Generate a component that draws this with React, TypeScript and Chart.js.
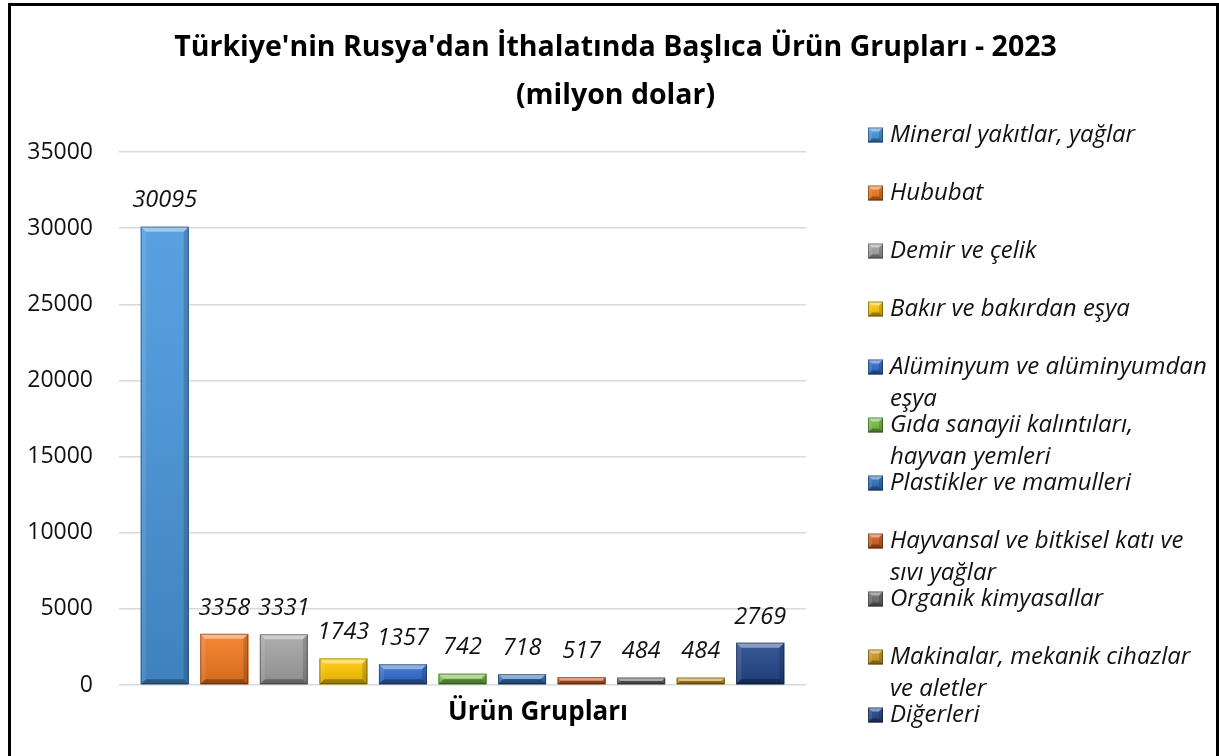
import React, { useEffect, useRef } from "react";
import { Chart, registerables } from "chart.js";

Chart.register(...registerables);

// ---- data ----
const categories: string[] = [""];
const seriesNames: string[] = [
  "Mineral yakıtlar, yağlar",
  "Hububat",
  "Demir ve çelik",
  "Bakır ve bakırdan eşya",
  "Alüminyum ve alüminyumdan eşya",
  "Gıda sanayii kalıntıları, hayvan yemleri",
  "Plastikler ve mamulleri",
  "Hayvansal ve bitkisel katı ve sıvı yağlar",
  "Organik kimyasallar",
  "Makinalar, mekanik cihazlar ve aletler",
  "Diğerleri",
];
const seriesValues: number[] = [30095, 3358, 3331, 1743, 1357, 742, 718, 517, 484, 484, 2769];
const seriesColors: string[] = [
  "#4796dc",
  "#f4791f",
  "#a3a3a3",
  "#ffc800",
  "#2f6bcc",
  "#76c043",
  "#2d72bc",
  "#d45f1e",
  "#6b6b6b",
  "#cf9d1c",
  "#21458a",
];
const titleLines: string[] = ["Türkiye'nin Rusya'dan İthalatında Başlıca Ürün Grupları - 2023", "(milyon dolar)"];
const xAxisTitle = "Ürün Grupları";
const yMin = 0;
const yMax = 35000;
const yStep = 5000;

const FONT = "'Open Sans', sans-serif";

function drawBevelBox(ctx: CanvasRenderingContext2D, l: number, t: number, w: number, h: number, color: string, bvMax: number) {
  const r = l + w;
  const b = t + h;
  const bv = Math.min(bvMax, h / 2, w / 2);
  ctx.fillStyle = color;
  ctx.fillRect(l, t, w, h);
  const g = ctx.createLinearGradient(0, t, 0, b);
  g.addColorStop(0, "rgba(255,255,255,0.10)");
  g.addColorStop(1, "rgba(0,0,0,0.14)");
  ctx.fillStyle = g;
  ctx.fillRect(l, t, w, h);
  const poly = (pts: number[][], fill: string) => {
    ctx.beginPath();
    ctx.moveTo(pts[0][0], pts[0][1]);
    for (let k = 1; k < pts.length; k++) ctx.lineTo(pts[k][0], pts[k][1]);
    ctx.closePath();
    ctx.fillStyle = fill;
    ctx.fill();
  };
  poly([[l, t], [r, t], [r - bv, t + bv], [l + bv, t + bv]], "rgba(255,255,255,0.42)");
  poly([[l, t], [l + bv, t + bv], [l + bv, b - bv], [l, b]], "rgba(255,255,255,0.10)");
  poly([[r, t], [r - bv, t + bv], [r - bv, b - bv], [r, b]], "rgba(0,0,0,0.16)");
  poly([[l, b], [l + bv, b - bv], [r - bv, b - bv], [r, b]], "rgba(0,0,0,0.30)");
  ctx.strokeStyle = "rgba(0,0,0,0.35)";
  ctx.lineWidth = 1;
  ctx.strokeRect(l + 0.5, t + 0.5, w - 1, h - 1);
}

const barDecorPlugin = {
  id: "barDecor",
  afterDatasetsDraw(chart: any) {
    const ctx: CanvasRenderingContext2D = chart.ctx;
    ctx.save();
    chart.data.datasets.forEach((ds: any, i: number) => {
      const meta = chart.getDatasetMeta(i);
      meta.data.forEach((bar: any, j: number) => {
        const p = bar.getProps(["x", "y", "base", "width"], true);
        const l = p.x - p.width / 2;
        const t = Math.min(p.y, p.base);
        const h = Math.abs(p.base - p.y);
        drawBevelBox(ctx, l, t, p.width, h, seriesColors[i], 5);
        ctx.fillStyle = "#111";
        ctx.font = `italic 23.5px ${FONT}`;
        ctx.textAlign = "center";
        ctx.textBaseline = "middle";
        ctx.fillText(String(ds.data[j]), p.x, t - 26);
      });
    });
    ctx.restore();
  },
};

function wrapText(ctx: CanvasRenderingContext2D, text: string, maxW: number): string[] {
  const words = text.split(" ");
  const lines: string[] = [];
  let cur = "";
  for (const w of words) {
    const test = cur ? cur + " " + w : w;
    if (ctx.measureText(test).width > maxW && cur) {
      lines.push(cur);
      cur = w;
    } else cur = test;
  }
  if (cur) lines.push(cur);
  return lines;
}

const decorPlugin = {
  id: "decor",
  afterDraw(chart: any) {
    const ctx: CanvasRenderingContext2D = chart.ctx;
    const area = chart.chartArea;
    ctx.save();
    // title
    ctx.fillStyle = "#000";
    ctx.font = `bold 28.5px ${FONT}`;
    ctx.textAlign = "center";
    ctx.textBaseline = "middle";
    titleLines.forEach((ln, k) => ctx.fillText(ln, chart.width / 2 + 2, 42 + k * 48));
    // x axis title
    ctx.font = `bold 26px ${FONT}`;
    ctx.fillText(xAxisTitle, area.left + (area.right - area.left) * 0.61, 707);
    // legend
    ctx.textAlign = "left";
    const boxX = 857;
    const textX = 879;
    const top = 129;
    const pitch = 58;
    const lineH = 32;
    seriesNames.forEach((name, i) => {
      const cy = top + i * pitch;
      drawBevelBox(ctx, boxX, cy - 7.5, 15, 15, seriesColors[i], 4);
      ctx.fillStyle = "#111";
      ctx.font = `italic 24px ${FONT}`;
      const lines = wrapText(ctx, name, chart.width - textX - 1);
      lines.forEach((ln, k) => ctx.fillText(ln, textX, cy + k * lineH));
    });
    ctx.restore();
  },
};

function ChartView() {
  const ref = useRef<HTMLCanvasElement | null>(null);
  useEffect(() => {
    if (!ref.current) return;
    const chart = new Chart(ref.current, {
      type: "bar",
      data: {
        labels: categories,
        datasets: seriesNames.map((name, i) => ({
          label: name,
          data: [seriesValues[i]],
          backgroundColor: seriesColors[i],
          borderWidth: 0,
          categoryPercentage: 0.9535,
          barPercentage: 0.806,
        })),
      },
      options: {
        animation: false,
        responsive: false,
        maintainAspectRatio: false,
        layout: { padding: { top: 146, right: 410, bottom: 75, left: 0 } },
        plugins: {
          legend: { display: false },
          title: { display: false },
          tooltip: { enabled: false },
        },
        scales: {
          x: { display: false },
          y: {
            min: yMin,
            max: yMax,
            ticks: {
              stepSize: yStep,
              padding: 26,
              color: "#111",
              font: { family: FONT, size: 23 },
              callback: (v: any) => String(v),
            },
            grid: { color: "#d9d9d9", lineWidth: 1.5, drawTicks: false },
            border: { display: false },
            afterFit: (scale: any) => {
              scale.width = 108;
            },
          },
        },
      },
      plugins: [barDecorPlugin, decorPlugin],
    } as any);
    return () => chart.destroy();
  }, []);
  return <canvas ref={ref} width={1205} height={754} style={{ display: "block" }} />;
}

export default function App() {
  return (
    <div
      style={{
        position: "absolute",
        left: 8,
        top: 3,
        width: 1211,
        height: 760,
        border: "3px solid #000",
        boxSizing: "border-box",
        background: "#fff",
        overflow: "hidden",
      }}
    >
      <ChartView />
    </div>
  );
}
